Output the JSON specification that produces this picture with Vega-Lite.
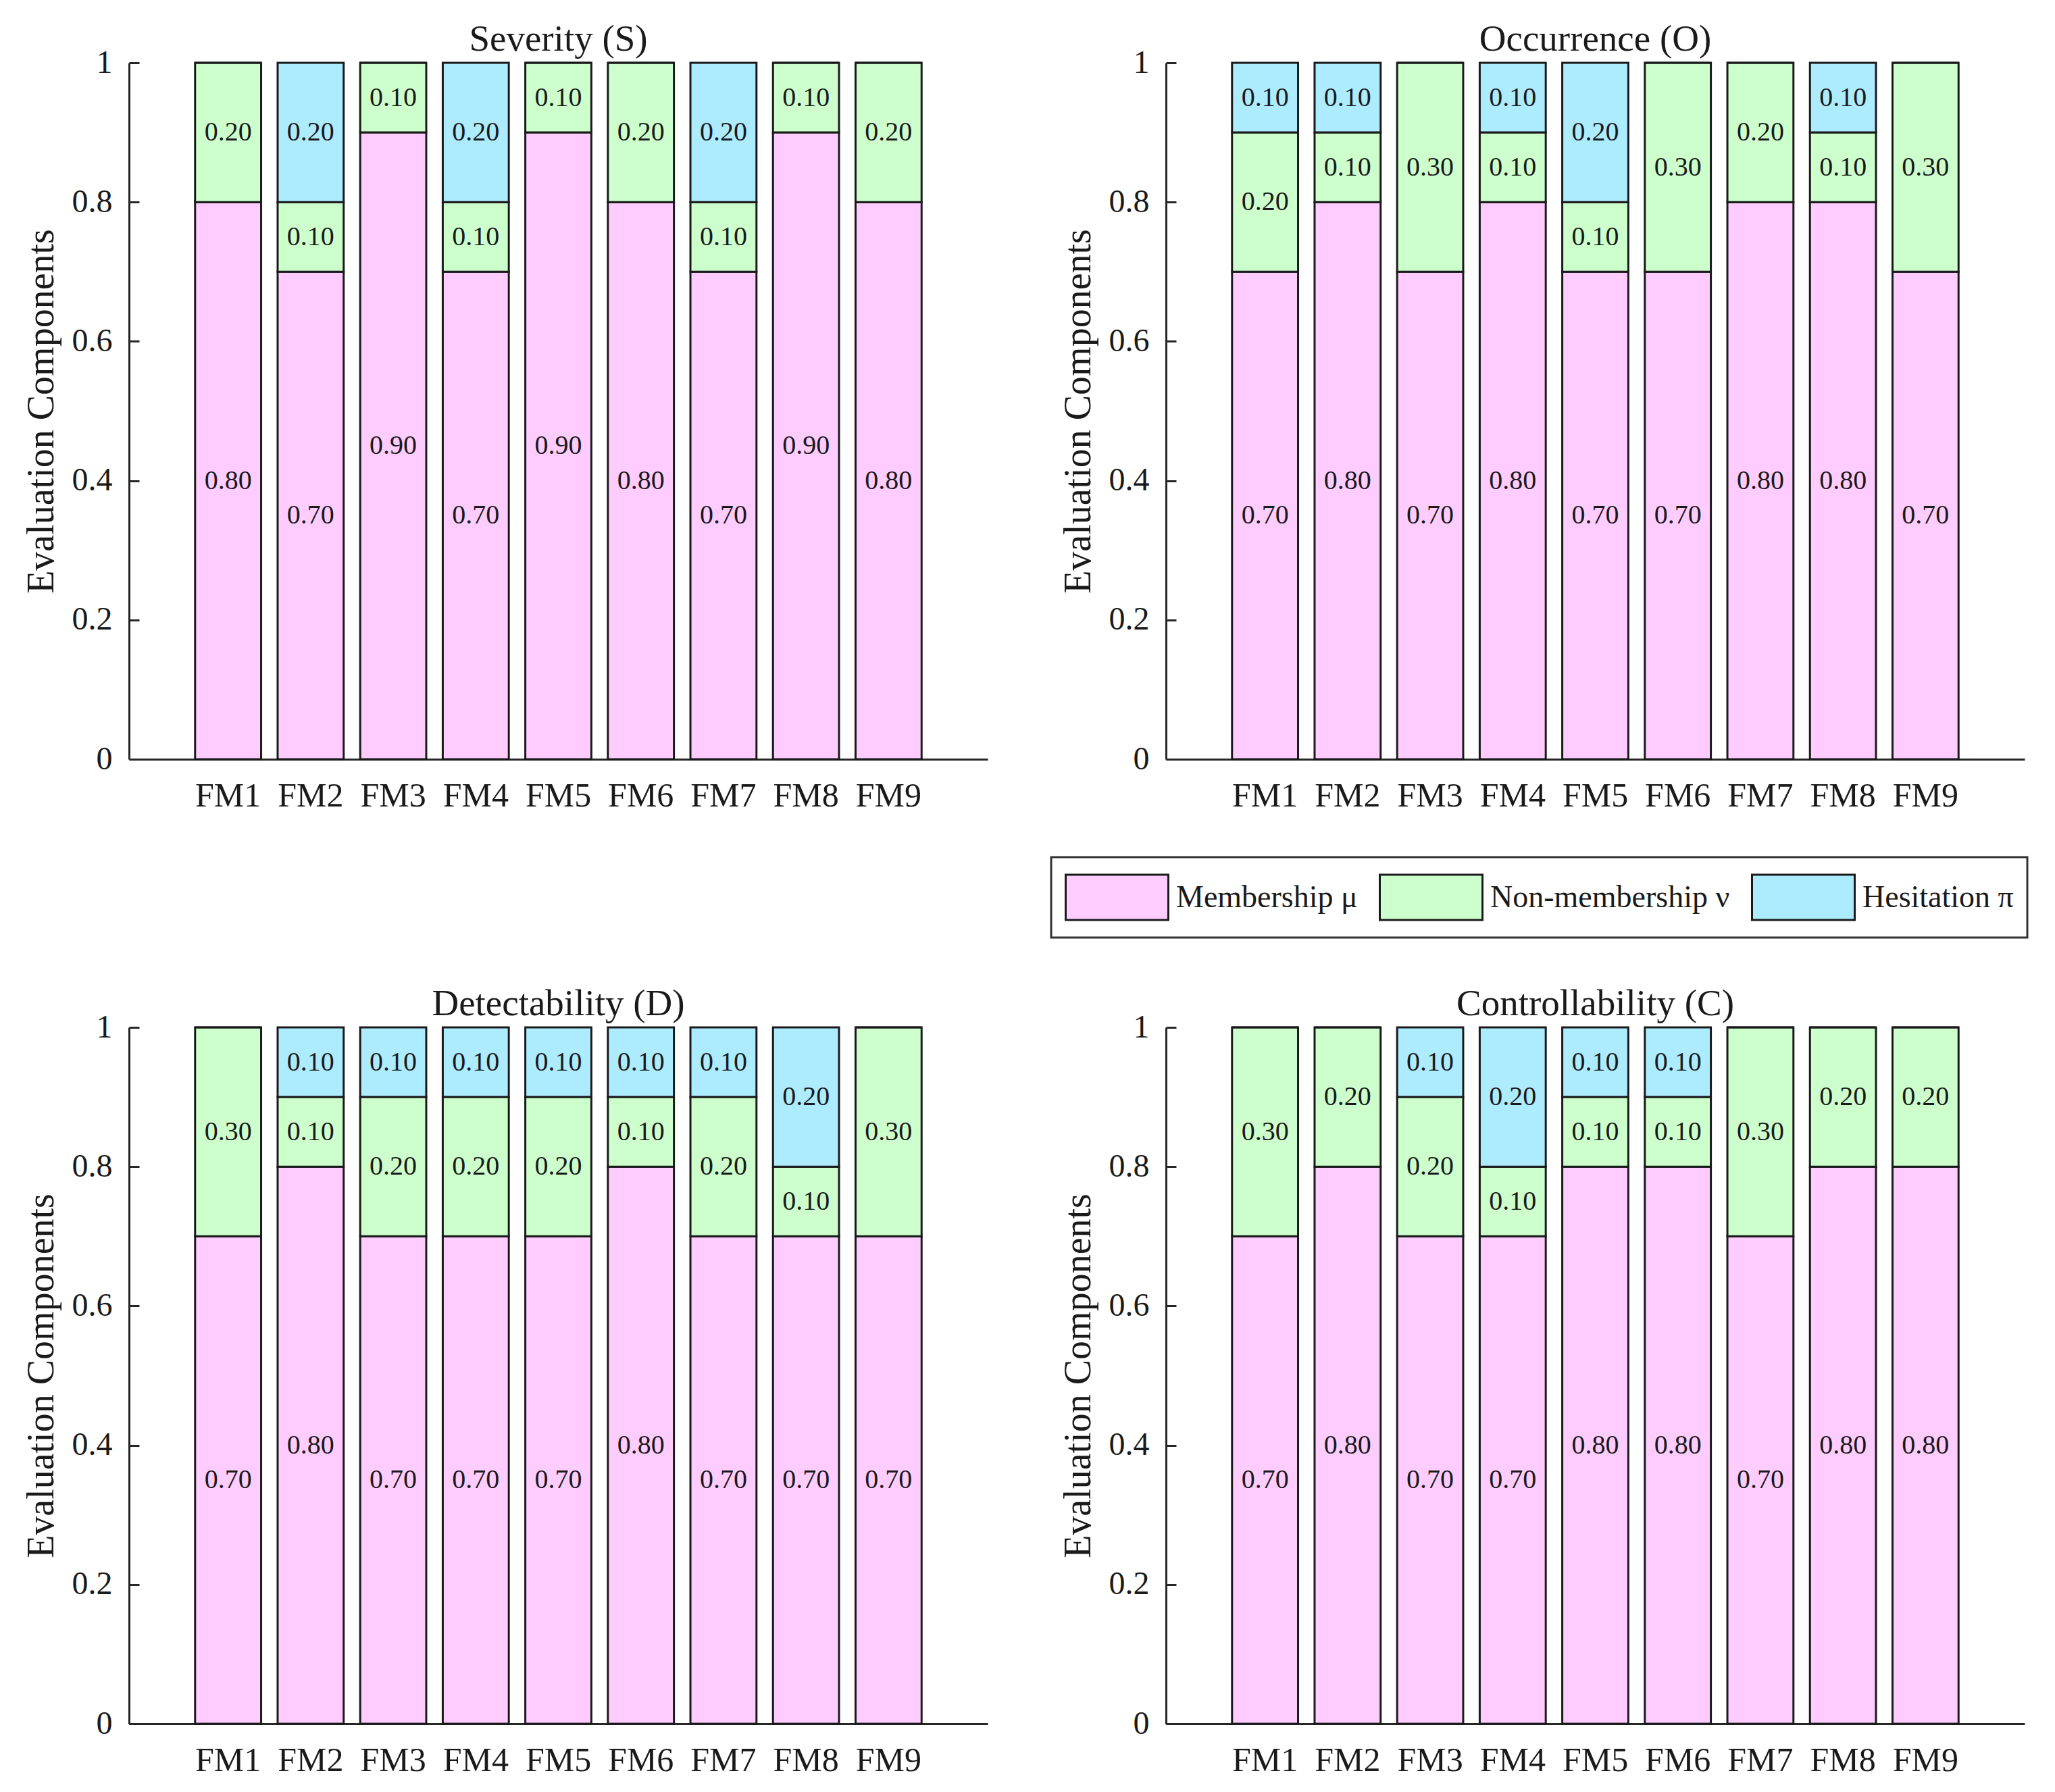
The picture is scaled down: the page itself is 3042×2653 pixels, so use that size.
{
  "$schema": "https://vega.github.io/schema/vega-lite/v6.json",
  "background": "white",
  "padding": {"left": 33, "top": 31, "right": 20, "bottom": 20},
  "config": {
    "font": "Liberation Serif",
    "view": {"stroke": null},
    "axis": {
      "labelFont": "Liberation Serif",
      "titleFont": "Liberation Serif",
      "labelColor": "#1a1a1a",
      "titleColor": "#1a1a1a",
      "domainColor": "#262626",
      "domainWidth": 3,
      "tickColor": "#262626",
      "tickWidth": 3,
      "tickSize": -15,
      "grid": false
    },
    "legend": {"labelFont": "Liberation Serif"}
  },
  "data": {
    "values": [
      {"p": "Severity (S)", "fm": "FM1", "c": "Membership μ", "v": 0.8},
      {"p": "Severity (S)", "fm": "FM1", "c": "Non-membership ν", "v": 0.2},
      {"p": "Severity (S)", "fm": "FM1", "c": "Hesitation π", "v": 0},
      {"p": "Severity (S)", "fm": "FM2", "c": "Membership μ", "v": 0.7},
      {"p": "Severity (S)", "fm": "FM2", "c": "Non-membership ν", "v": 0.1},
      {"p": "Severity (S)", "fm": "FM2", "c": "Hesitation π", "v": 0.2},
      {"p": "Severity (S)", "fm": "FM3", "c": "Membership μ", "v": 0.9},
      {"p": "Severity (S)", "fm": "FM3", "c": "Non-membership ν", "v": 0.1},
      {"p": "Severity (S)", "fm": "FM3", "c": "Hesitation π", "v": 0},
      {"p": "Severity (S)", "fm": "FM4", "c": "Membership μ", "v": 0.7},
      {"p": "Severity (S)", "fm": "FM4", "c": "Non-membership ν", "v": 0.1},
      {"p": "Severity (S)", "fm": "FM4", "c": "Hesitation π", "v": 0.2},
      {"p": "Severity (S)", "fm": "FM5", "c": "Membership μ", "v": 0.9},
      {"p": "Severity (S)", "fm": "FM5", "c": "Non-membership ν", "v": 0.1},
      {"p": "Severity (S)", "fm": "FM5", "c": "Hesitation π", "v": 0},
      {"p": "Severity (S)", "fm": "FM6", "c": "Membership μ", "v": 0.8},
      {"p": "Severity (S)", "fm": "FM6", "c": "Non-membership ν", "v": 0.2},
      {"p": "Severity (S)", "fm": "FM6", "c": "Hesitation π", "v": 0},
      {"p": "Severity (S)", "fm": "FM7", "c": "Membership μ", "v": 0.7},
      {"p": "Severity (S)", "fm": "FM7", "c": "Non-membership ν", "v": 0.1},
      {"p": "Severity (S)", "fm": "FM7", "c": "Hesitation π", "v": 0.2},
      {"p": "Severity (S)", "fm": "FM8", "c": "Membership μ", "v": 0.9},
      {"p": "Severity (S)", "fm": "FM8", "c": "Non-membership ν", "v": 0.1},
      {"p": "Severity (S)", "fm": "FM8", "c": "Hesitation π", "v": 0},
      {"p": "Severity (S)", "fm": "FM9", "c": "Membership μ", "v": 0.8},
      {"p": "Severity (S)", "fm": "FM9", "c": "Non-membership ν", "v": 0.2},
      {"p": "Severity (S)", "fm": "FM9", "c": "Hesitation π", "v": 0},

      {"p": "Occurrence (O)", "fm": "FM1", "c": "Membership μ", "v": 0.7},
      {"p": "Occurrence (O)", "fm": "FM1", "c": "Non-membership ν", "v": 0.2},
      {"p": "Occurrence (O)", "fm": "FM1", "c": "Hesitation π", "v": 0.1},
      {"p": "Occurrence (O)", "fm": "FM2", "c": "Membership μ", "v": 0.8},
      {"p": "Occurrence (O)", "fm": "FM2", "c": "Non-membership ν", "v": 0.1},
      {"p": "Occurrence (O)", "fm": "FM2", "c": "Hesitation π", "v": 0.1},
      {"p": "Occurrence (O)", "fm": "FM3", "c": "Membership μ", "v": 0.7},
      {"p": "Occurrence (O)", "fm": "FM3", "c": "Non-membership ν", "v": 0.3},
      {"p": "Occurrence (O)", "fm": "FM3", "c": "Hesitation π", "v": 0},
      {"p": "Occurrence (O)", "fm": "FM4", "c": "Membership μ", "v": 0.8},
      {"p": "Occurrence (O)", "fm": "FM4", "c": "Non-membership ν", "v": 0.1},
      {"p": "Occurrence (O)", "fm": "FM4", "c": "Hesitation π", "v": 0.1},
      {"p": "Occurrence (O)", "fm": "FM5", "c": "Membership μ", "v": 0.7},
      {"p": "Occurrence (O)", "fm": "FM5", "c": "Non-membership ν", "v": 0.1},
      {"p": "Occurrence (O)", "fm": "FM5", "c": "Hesitation π", "v": 0.2},
      {"p": "Occurrence (O)", "fm": "FM6", "c": "Membership μ", "v": 0.7},
      {"p": "Occurrence (O)", "fm": "FM6", "c": "Non-membership ν", "v": 0.3},
      {"p": "Occurrence (O)", "fm": "FM6", "c": "Hesitation π", "v": 0},
      {"p": "Occurrence (O)", "fm": "FM7", "c": "Membership μ", "v": 0.8},
      {"p": "Occurrence (O)", "fm": "FM7", "c": "Non-membership ν", "v": 0.2},
      {"p": "Occurrence (O)", "fm": "FM7", "c": "Hesitation π", "v": 0},
      {"p": "Occurrence (O)", "fm": "FM8", "c": "Membership μ", "v": 0.8},
      {"p": "Occurrence (O)", "fm": "FM8", "c": "Non-membership ν", "v": 0.1},
      {"p": "Occurrence (O)", "fm": "FM8", "c": "Hesitation π", "v": 0.1},
      {"p": "Occurrence (O)", "fm": "FM9", "c": "Membership μ", "v": 0.7},
      {"p": "Occurrence (O)", "fm": "FM9", "c": "Non-membership ν", "v": 0.3},
      {"p": "Occurrence (O)", "fm": "FM9", "c": "Hesitation π", "v": 0},

      {"p": "Detectability (D)", "fm": "FM1", "c": "Membership μ", "v": 0.7},
      {"p": "Detectability (D)", "fm": "FM1", "c": "Non-membership ν", "v": 0.3},
      {"p": "Detectability (D)", "fm": "FM1", "c": "Hesitation π", "v": 0},
      {"p": "Detectability (D)", "fm": "FM2", "c": "Membership μ", "v": 0.8},
      {"p": "Detectability (D)", "fm": "FM2", "c": "Non-membership ν", "v": 0.1},
      {"p": "Detectability (D)", "fm": "FM2", "c": "Hesitation π", "v": 0.1},
      {"p": "Detectability (D)", "fm": "FM3", "c": "Membership μ", "v": 0.7},
      {"p": "Detectability (D)", "fm": "FM3", "c": "Non-membership ν", "v": 0.2},
      {"p": "Detectability (D)", "fm": "FM3", "c": "Hesitation π", "v": 0.1},
      {"p": "Detectability (D)", "fm": "FM4", "c": "Membership μ", "v": 0.7},
      {"p": "Detectability (D)", "fm": "FM4", "c": "Non-membership ν", "v": 0.2},
      {"p": "Detectability (D)", "fm": "FM4", "c": "Hesitation π", "v": 0.1},
      {"p": "Detectability (D)", "fm": "FM5", "c": "Membership μ", "v": 0.7},
      {"p": "Detectability (D)", "fm": "FM5", "c": "Non-membership ν", "v": 0.2},
      {"p": "Detectability (D)", "fm": "FM5", "c": "Hesitation π", "v": 0.1},
      {"p": "Detectability (D)", "fm": "FM6", "c": "Membership μ", "v": 0.8},
      {"p": "Detectability (D)", "fm": "FM6", "c": "Non-membership ν", "v": 0.1},
      {"p": "Detectability (D)", "fm": "FM6", "c": "Hesitation π", "v": 0.1},
      {"p": "Detectability (D)", "fm": "FM7", "c": "Membership μ", "v": 0.7},
      {"p": "Detectability (D)", "fm": "FM7", "c": "Non-membership ν", "v": 0.2},
      {"p": "Detectability (D)", "fm": "FM7", "c": "Hesitation π", "v": 0.1},
      {"p": "Detectability (D)", "fm": "FM8", "c": "Membership μ", "v": 0.7},
      {"p": "Detectability (D)", "fm": "FM8", "c": "Non-membership ν", "v": 0.1},
      {"p": "Detectability (D)", "fm": "FM8", "c": "Hesitation π", "v": 0.2},
      {"p": "Detectability (D)", "fm": "FM9", "c": "Membership μ", "v": 0.7},
      {"p": "Detectability (D)", "fm": "FM9", "c": "Non-membership ν", "v": 0.3},
      {"p": "Detectability (D)", "fm": "FM9", "c": "Hesitation π", "v": 0},

      {"p": "Controllability (C)", "fm": "FM1", "c": "Membership μ", "v": 0.7},
      {"p": "Controllability (C)", "fm": "FM1", "c": "Non-membership ν", "v": 0.3},
      {"p": "Controllability (C)", "fm": "FM1", "c": "Hesitation π", "v": 0},
      {"p": "Controllability (C)", "fm": "FM2", "c": "Membership μ", "v": 0.8},
      {"p": "Controllability (C)", "fm": "FM2", "c": "Non-membership ν", "v": 0.2},
      {"p": "Controllability (C)", "fm": "FM2", "c": "Hesitation π", "v": 0},
      {"p": "Controllability (C)", "fm": "FM3", "c": "Membership μ", "v": 0.7},
      {"p": "Controllability (C)", "fm": "FM3", "c": "Non-membership ν", "v": 0.2},
      {"p": "Controllability (C)", "fm": "FM3", "c": "Hesitation π", "v": 0.1},
      {"p": "Controllability (C)", "fm": "FM4", "c": "Membership μ", "v": 0.7},
      {"p": "Controllability (C)", "fm": "FM4", "c": "Non-membership ν", "v": 0.1},
      {"p": "Controllability (C)", "fm": "FM4", "c": "Hesitation π", "v": 0.2},
      {"p": "Controllability (C)", "fm": "FM5", "c": "Membership μ", "v": 0.8},
      {"p": "Controllability (C)", "fm": "FM5", "c": "Non-membership ν", "v": 0.1},
      {"p": "Controllability (C)", "fm": "FM5", "c": "Hesitation π", "v": 0.1},
      {"p": "Controllability (C)", "fm": "FM6", "c": "Membership μ", "v": 0.8},
      {"p": "Controllability (C)", "fm": "FM6", "c": "Non-membership ν", "v": 0.1},
      {"p": "Controllability (C)", "fm": "FM6", "c": "Hesitation π", "v": 0.1},
      {"p": "Controllability (C)", "fm": "FM7", "c": "Membership μ", "v": 0.7},
      {"p": "Controllability (C)", "fm": "FM7", "c": "Non-membership ν", "v": 0.3},
      {"p": "Controllability (C)", "fm": "FM7", "c": "Hesitation π", "v": 0},
      {"p": "Controllability (C)", "fm": "FM8", "c": "Membership μ", "v": 0.8},
      {"p": "Controllability (C)", "fm": "FM8", "c": "Non-membership ν", "v": 0.2},
      {"p": "Controllability (C)", "fm": "FM8", "c": "Hesitation π", "v": 0},
      {"p": "Controllability (C)", "fm": "FM9", "c": "Membership μ", "v": 0.8},
      {"p": "Controllability (C)", "fm": "FM9", "c": "Non-membership ν", "v": 0.2},
      {"p": "Controllability (C)", "fm": "FM9", "c": "Hesitation π", "v": 0}
    ]
  },
  "transform": [
    {"calculate": "indexof(['Membership μ','Non-membership ν','Hesitation π'], datum.c)", "as": "k"},
    {"stack": "v", "groupby": ["p", "fm"], "sort": [{"field": "k", "order": "ascending"}], "as": ["y0", "y1"]},
    {"calculate": "(datum.y0 + datum.y1) / 2", "as": "ym"}
  ],
  "facet": {
    "field": "p",
    "type": "nominal",
    "sort": ["Severity (S)", "Occurrence (O)", "Detectability (D)", "Controllability (C)"],
    "header": {"title": null, "labelFontSize": 55, "labelFont": "Liberation Serif", "labelColor": "#1a1a1a", "labelPadding": -18}
  },
  "columns": 2,
  "spacing": {"row": 256, "column": 106},
  "resolve": {"axis": {"x": "independent", "y": "independent"}},
  "spec": {
    "width": 1271,
    "height": 1031,
    "layer": [
      {
        "mark": {"type": "bar", "stroke": "#1a1a1a", "strokeWidth": 3},
        "encoding": {
          "x": {
            "field": "fm", "type": "nominal",
            "scale": {"paddingInner": 0.2, "paddingOuter": 0.8},
            "axis": {"title": null, "labelAngle": 0, "labelFontSize": 50, "labelPadding": 44}
          },
          "y": {
            "field": "y0", "type": "quantitative",
            "scale": {"domain": [0, 1], "nice": false},
            "axis": {
              "title": "Evaluation Components", "titleFontSize": 56, "titleFontWeight": "normal", "titlePadding": 16,
              "values": [0, 0.2, 0.4, 0.6, 0.8, 1], "format": "~g", "labelFontSize": 48, "labelPadding": 40
            }
          },
          "y2": {"field": "y1"},
          "color": {
            "field": "c", "type": "nominal",
            "scale": {"domain": ["Membership μ", "Non-membership ν", "Hesitation π"], "range": ["#FFCCFF", "#CCFFCC", "#ADEBFF"]},
            "legend": {
              "title": null,
              "orient": "none",
              "legendX": 1365,
              "legendY": 1176,
              "direction": "horizontal",
              "columns": 3,
              "symbolType": "M-1,-0.88L3,-0.88L3,0.88L-1,0.88Z",
              "symbolSize": 5776,
              "symbolStrokeColor": "#1a1a1a",
              "symbolStrokeWidth": 3,
              "symbolOpacity": 1,
              "labelFontSize": 46,
              "labelColor": "#1a1a1a",
              "labelOffset": 86,
              "columnPadding": 26,
              "padding": 20,
              "strokeColor": "#333333",
              "fillColor": "white",
              "labelLimit": 600,
              "encode": {"legend": {"update": {"strokeWidth": {"value": 3}}}}
            }
          }
        }
      },
      {
        "transform": [{"filter": "datum.v > 0"}],
        "mark": {"type": "text", "fontSize": 40, "font": "Liberation Serif", "color": "#1a1a1a", "baseline": "middle"},
        "encoding": {
          "x": {"field": "fm", "type": "nominal"},
          "y": {"field": "ym", "type": "quantitative"},
          "text": {"field": "v", "type": "quantitative", "format": ".2f"}
        }
      }
    ]
  }
}
